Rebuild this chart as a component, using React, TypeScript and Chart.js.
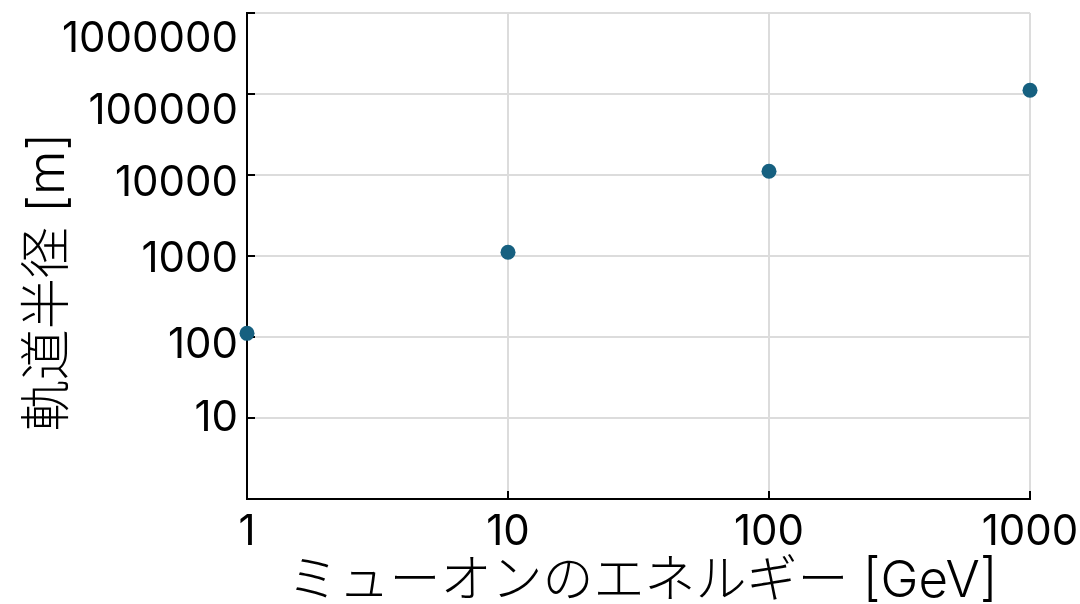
import React, { useEffect, useRef } from 'react';
import { Chart, registerables } from 'chart.js';

Chart.register(...registerables);

// ---- data ----
const energyGeV = [1, 10, 100, 1000];
const radiusM = [111, 1111, 11111, 111111];
const xTickValues = [1, 10, 100, 1000];
const yTickValues = [10, 100, 1000, 10000, 100000, 1000000];
const xTitle = 'ミューオンのエネルギー [GeV]';
const yTitle = '軌道半径 [m]';

// ---- style ----
const yLabelNudge = [0, 8, 3, 8.5, 17, 26]; // px, per y tick label (same order as yTickValues)
const FONT = 'Inter, "Noto Sans CJK JP", sans-serif';
const DOT = 'rgb(22,96,128)';
const GRID = '#dcdcdc';

const titlePlugin = {
  id: 'axisTitles',
  beforeDatasetsDraw(chart: any) {
    const { ctx, chartArea, scales } = chart;
    const x = scales.x;
    const y = scales.y;
    ctx.save();
    ctx.strokeStyle = '#000';
    ctx.lineWidth = 2;
    ctx.beginPath();
    for (const v of xTickValues) {
      const px = Math.round(x.getPixelForValue(v));
      ctx.moveTo(px, chartArea.bottom);
      ctx.lineTo(px, chartArea.bottom - 8);
    }
    for (const v of yTickValues) {
      const py = Math.round(y.getPixelForValue(v));
      ctx.moveTo(chartArea.left, py);
      ctx.lineTo(chartArea.left + 8, py);
    }
    ctx.stroke();
    ctx.restore();
  },
  afterDraw(chart: any) {
    const { ctx, chartArea } = chart;
    ctx.save();
    ctx.fillStyle = '#000';
    ctx.font = `300 51px ${FONT}`;
    ctx.textAlign = 'center';
    ctx.textBaseline = 'alphabetic';
    ctx.fillText(xTitle, (chartArea.left + chartArea.right) / 2 + 4, chart.height - 7);
    ctx.translate(64, (chartArea.top + chartArea.bottom) / 2 + 26);
    ctx.rotate(-Math.PI / 2);
    ctx.fillText(yTitle, 0, 0);
    ctx.restore();
  },
};

export default function App() {
  const ref = useRef<HTMLCanvasElement>(null);
  useEffect(() => {
    if (!ref.current) return;
    const chart = new Chart(ref.current, {
      type: 'scatter',
      data: {
        datasets: [
          {
            data: energyGeV.map((e, i) => ({ x: e, y: radiusM[i] })),
            backgroundColor: DOT,
            borderColor: DOT,
            pointRadius: 7.5,
            pointBorderWidth: 0,
            showLine: false,
            clip: false,
          } as any,
        ],
      },
      options: {
        animation: false,
        responsive: false,
        devicePixelRatio: 1,
        layout: { padding: { top: 13, right: 50, left: 0, bottom: 0 } },
        plugins: { legend: { display: false }, tooltip: { enabled: false } },
        scales: {
          x: {
            type: 'logarithmic',
            min: 1,
            max: 1000,
            afterBuildTicks: (s: any) => {
              s.ticks = xTickValues.map((value) => ({ value }));
            },
            afterFit: (s: any) => {
              s.height = 105;
              s.paddingLeft = 0;
              s.paddingRight = 0;
            },
            grid: { color: GRID, lineWidth: 2, drawTicks: false },
            border: { color: '#000', width: 2 },
            ticks: {
              padding: 8,
              color: '#000',
              font: { family: FONT, size: 42 },
              maxRotation: 0,
              autoSkip: false,
              callback: (v: any) => String(v),
            },
          },
          y: {
            type: 'logarithmic',
            min: 1,
            max: 1000000,
            afterBuildTicks: (s: any) => {
              s.ticks = yTickValues.map((value) => ({ value }));
            },
            afterFit: (s: any) => {
              s.width = 247;
              s.paddingTop = 0;
              s.paddingBottom = 0;
            },
            grid: { color: GRID, lineWidth: 2, drawTicks: false },
            border: { color: '#000', width: 2 },
            ticks: {
              padding: 9,
              color: '#000',
              autoSkip: false,
              font: (ctx: any) => {
                const i = yTickValues.indexOf(ctx.tick ? ctx.tick.value : -1);
                const n = i >= 0 ? yLabelNudge[i] : 0;
                return { family: FONT, size: 42, lineHeight: `${2 * n}px` };
              },
              callback: (v: any) => ['', String(v)],
            },
          },
        },
      },
      plugins: [titlePlugin],
    });
    return () => chart.destroy();
  }, []);
  return (
    <div style={{ position: 'fixed', left: 0, top: 0, width: 1080, height: 604, background: '#fff' }}>
      <canvas ref={ref} width={1080} height={604} style={{ display: 'block' }} />
    </div>
  );
}
